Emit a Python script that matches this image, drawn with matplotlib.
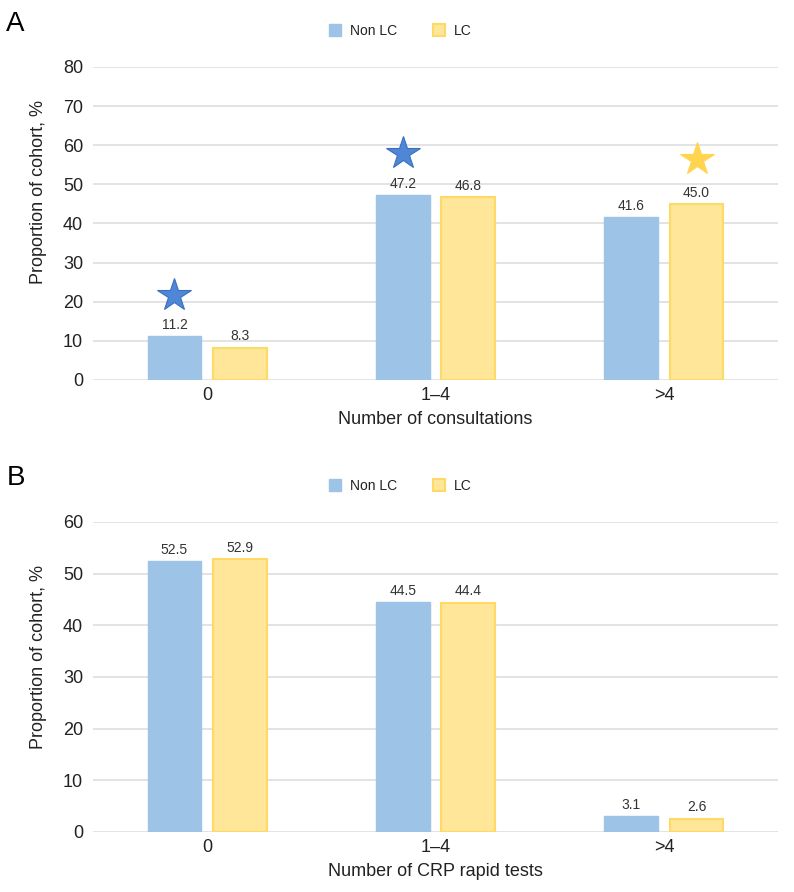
import matplotlib
matplotlib.use("Agg")
import matplotlib.pyplot as plt
import numpy as np
from matplotlib.patches import Patch

plt.rcParams['font.family'] = ['Liberation Sans', 'DejaVu Sans']

categories = ["0", "1\u20134", ">4"]
series_names = ["Non LC", "LC"]

a_nonlc = [11.2, 47.2, 41.6]
a_lc = [8.3, 46.8, 45.0]
b_nonlc = [52.5, 44.5, 3.1]
b_lc = [52.9, 44.4, 2.6]

# significance stars in panel A: (category index, series index, y value)
star_cat = [0, 1, 2]
star_series = [0, 0, 1]
star_y = [21.7, 58.0, 56.4]

a_yticks = [0, 10, 20, 30, 40, 50, 60, 70, 80]
b_yticks = [0, 10, 20, 30, 40, 50, 60]

blue = "#9DC3E6"
yellow_fill = "#FFE699"
yellow_edge = "#FFD966"
star_colors = ["#4F86D6", "#FFD54F"]
star_edges = ["#3A6FC0", "#FFD54F"]
grid_c = "#DEDEDE"
text_c = "#222222"

fig = plt.figure(figsize=(7.94, 8.92), dpi=100)
axA = fig.add_axes([0.117, 0.574, 0.863, 0.351])
axB = fig.add_axes([0.117, 0.0673, 0.863, 0.3475])

w = 0.235
off = 0.143
x = np.arange(len(categories))


def draw(ax, nonlc, lc, yticks, xlabel, label_y):
    b1 = ax.bar(x - off, nonlc, w, color=blue, edgecolor=blue, linewidth=1, zorder=3)
    b2 = ax.bar(x + off, lc, w, color=yellow_fill, edgecolor=yellow_edge, linewidth=1.5, zorder=3)
    for bars in (b1, b2):
        for r in bars:
            ax.annotate(f"{r.get_height():.1f}", (r.get_x() + r.get_width() / 2, r.get_height()),
                        xytext=(0, 3), textcoords="offset points", ha="center", va="bottom",
                        fontsize=10, color="#333333")
    ax.set_xlim(-0.5, 2.5)
    ax.set_ylim(yticks[0], yticks[-1])
    ax.set_yticks(yticks)
    ax.set_xticks(x)
    ax.set_xticklabels(categories)
    ax.yaxis.grid(True, color=grid_c, linewidth=1.2, zorder=0)
    ax.set_axisbelow(True)
    for s in ax.spines.values():
        s.set_visible(False)
    ax.tick_params(axis="both", length=0, labelsize=13, colors=text_c)
    ax.tick_params(axis="y", pad=7)
    ax.tick_params(axis="x", pad=5)
    ax.set_xlabel(xlabel, fontsize=13, color=text_c, labelpad=5)
    ax.set_ylabel("Proportion of cohort, %", fontsize=13, color=text_c)
    ax.yaxis.set_label_coords(-0.067, label_y)
    handles = [Patch(facecolor=blue, edgecolor=blue, label=series_names[0]),
               Patch(facecolor=yellow_fill, edgecolor=yellow_edge, linewidth=1.5, label=series_names[1])]
    return handles


hA = draw(axA, a_nonlc, a_lc, a_yticks, "Number of consultations", 0.60)
hB = draw(axB, b_nonlc, b_lc, b_yticks, "Number of CRP rapid tests", 0.565)

for c, s, yv in zip(star_cat, star_series, star_y):
    xs = c - off if s == 0 else c + off
    axA.plot([xs], [yv], marker="*", markersize=25, color=star_colors[s],
             markeredgecolor=star_edges[s], markeredgewidth=0.8, zorder=4, clip_on=False)

for handles, ycen in ((hA, 1 - 31 / 892), (hB, 1 - 486 / 892)):
    fig.legend(handles=handles, loc="center", bbox_to_anchor=(0.504, ycen), ncol=2, frameon=False,
               fontsize=10, handlelength=0.9, handleheight=0.9, handletextpad=0.6, columnspacing=2.6,
               labelcolor=text_c)

fig.text(0.008, 1 - 24 / 892, "A", fontsize=20, va="center", ha="left", color="black")
fig.text(0.008, 1 - 478 / 892, "B", fontsize=20, va="center", ha="left", color="black")

fig.savefig("out.png", dpi=100)
